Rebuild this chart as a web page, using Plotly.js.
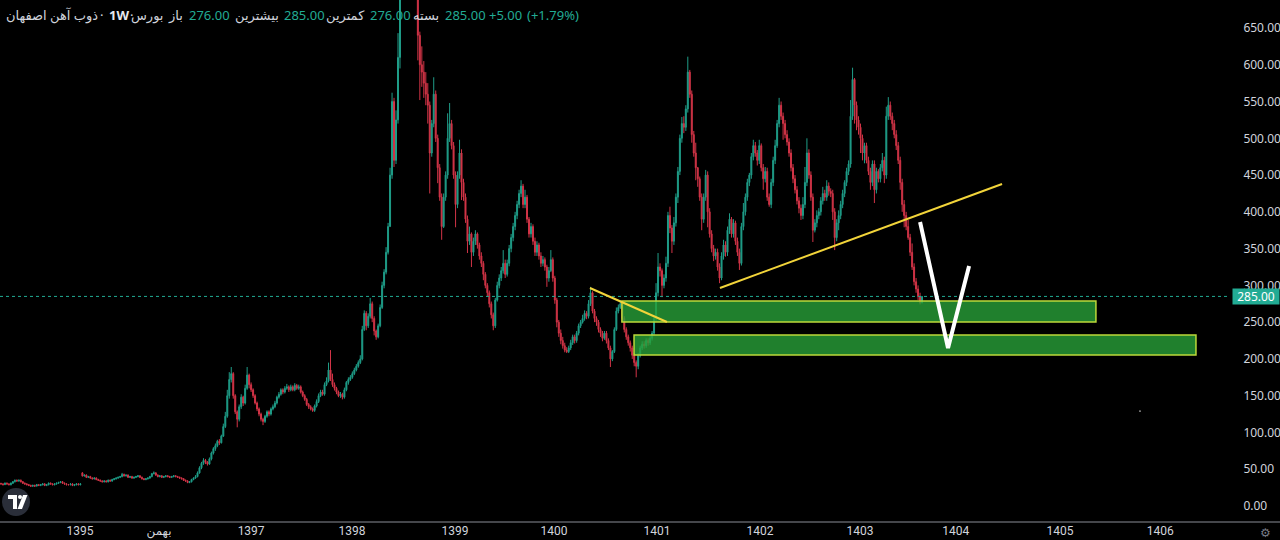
<!DOCTYPE html>
<html><head><meta charset="utf-8">
<script src="https://cdn.plot.ly/plotly-3.0.1.min.js"></script>
<style>html,body{margin:0;padding:0;background:#000;overflow:hidden}#c{width:1280px;height:540px}</style>
</head><body><div id="c"></div>
<script>
// Weekly OHLC of ذوب آهن اصفهان
const closeP = [30,29,31,30,29,31,33,35,34,35,
33,31,30,29,28,27,28,27,29,28,
29,30,28,29,31,30,29,30,31,32,
33,31,30,29,29,30,28,29,30,29,30,
41,42,39,40,38,37,38,36,35,34,
33,34,33,35,34,36,37,38,39,40,
43,41,42,39,40,38,39,40,41,39,
37,36,37,38,40,44,45,42,40,41,
39,40,41,40,39,40,41,40,39,38,
37,35,34,32,33,
36,38,40,45,52,58,62,60,57,64,
72,78,82,88,86,95,108,122,150,172,
180,150,128,118,135,148,140,160,178,165,
158,150,140,132,125,118,115,122,128,125,
132,135,140,148,152,158,155,160,162,158,
162,158,164,160,162,155,150,145,138,135,
132,130,136,142,150,155,152,165,170,185,
172,165,160,155,150,152,148,158,168,172,
175,180,185,190,195,200,240,262,245,258,
275,255,238,230,245,270,300,318,345,380,
450,550,470,525,610,690,740,765,785,770,
750,760,735,720,640,600,590,575,560,545,
480,520,560,500,460,420,380,420,450,500,
520,490,450,410,450,480,440,420,390,360,
370,345,360,370,355,340,330,315,300,290,
275,260,245,280,300,310,320,330,315,330,
350,365,380,395,410,425,435,410,420,390,
370,380,360,345,355,340,330,335,325,310,
320,335,310,280,250,235,225,218,212,210,
215,222,230,225,235,245,250,255,262,258,
275,290,265,255,250,240,235,228,235,225,
215,200,210,240,265,270,275,255,240,230,
222,215,205,195,190,205,215,220,218,225,
222,228,235,255,290,325,320,300,310,330,
395,378,360,385,420,455,500,520,515,540,
590,560,505,480,460,445,420,390,420,450,
400,370,350,340,345,325,310,340,355,345,
375,390,370,385,360,345,330,380,400,420,
440,450,475,490,480,470,490,460,445,455,
420,410,440,470,490,520,545,530,520,505,
495,480,460,445,430,415,405,395,410,440,
480,450,420,375,385,395,400,415,425,420,
435,428,425,400,365,385,395,410,425,440,
455,465,530,580,545,525,515,500,480,490,
470,455,440,465,430,455,445,460,470,450,
530,545,530,520,505,490,470,440,410,395,
380,365,345,325,305,295,285,276,285];

const highP = [31,31,32,32,31,32,34,36,36,36,
36,34,32,31,30,29,29,29,30,30,
30,31,31,30,32,32,31,31,32,33,
34,34,32,31,30,31,31,30,31,31,31,
46,43,43,41,41,39,39,39,37,36,
35,35,35,36,36,37,38,39,40,41,
45,44,43,43,41,41,40,41,42,42,
40,38,38,39,41,45,47,46,43,42,
42,41,42,42,41,41,42,42,41,40,
39,38,36,35,34,
37,39,42,47,54,60,65,64,61,66,
74,80,85,90,91,97,112,128,158,182,
189,182,152,130,138,152,150,165,189,180,
168,160,152,142,134,127,120,124,130,130,
134,138,143,150,155,160,160,163,166,164,
165,164,167,166,165,164,157,152,147,140,
137,134,138,145,153,158,158,168,175,195,
212,180,168,162,157,155,154,161,170,175,
178,183,188,193,198,205,245,266,265,262,
283,278,258,240,248,274,305,322,352,385,
460,562,555,538,643,730,765,790,805,810,
790,785,770,750,725,645,625,605,590,575,
550,525,583,565,505,465,425,425,455,534,
548,525,495,455,455,498,485,445,425,395,
380,372,365,375,372,358,345,333,318,303,
293,278,263,283,305,315,325,348,335,335,
355,370,385,400,415,430,443,438,430,423,
393,385,383,365,360,358,345,340,338,328,
325,348,338,313,283,253,240,230,222,216,
218,226,233,233,238,248,253,260,266,265,
280,298,292,268,258,253,243,238,238,238,
228,218,212,243,270,274,280,278,258,243,
233,225,218,208,198,208,218,224,224,228,
228,231,238,259,303,344,330,323,315,339,
400,407,382,393,425,461,505,529,530,545,
611,593,565,510,494,461,448,425,425,457,
455,405,375,355,350,350,330,345,362,360,
380,398,393,390,388,365,350,385,412,425,
445,453,480,498,495,484,498,493,465,461,
460,425,445,475,498,525,555,550,535,525,
511,500,485,465,450,435,420,410,420,461,
500,485,455,425,390,402,405,420,434,430,
443,440,432,430,405,390,402,415,430,443,
460,470,552,596,582,550,530,520,505,494,
494,475,460,470,470,460,458,465,480,475,
543,556,550,535,525,511,495,475,445,416,
400,389,370,357,330,310,300,290,285];

const lowP = [29,28,29,29,28,28,30,32,33,33,
32,30,29,28,27,26,26,26,27,27,
27,28,27,27,28,29,28,28,29,30,
31,30,29,28,28,28,27,27,28,28,28,
40,40,38,38,37,36,36,35,34,33,
32,32,32,32,33,33,35,36,37,38,
39,40,40,38,38,37,37,38,39,38,
36,35,35,36,37,39,43,41,39,39,
38,38,39,39,38,38,39,39,38,37,
36,34,33,31,31,
32,35,37,39,44,50,56,57,55,56,
62,70,75,80,83,85,94,106,120,146,
168,146,125,107,115,132,136,138,158,160,
155,147,138,129,122,115,110,113,120,122,
123,130,133,138,146,150,152,153,158,155,
156,156,156,158,158,153,148,143,136,132,
130,128,128,134,140,148,150,150,163,168,
170,162,157,152,148,147,145,146,156,165,
170,173,178,183,188,193,198,238,239,242,
255,250,232,226,228,243,268,296,315,342,
380,445,461,465,520,595,688,725,745,735,
720,730,712,695,606,552,570,555,545,520,
425,475,515,495,439,415,362,378,415,445,
495,485,445,379,405,445,416,415,385,344,
355,325,340,355,350,335,325,307,296,285,
270,255,239,242,278,296,306,316,310,312,
326,345,360,375,390,405,420,405,405,385,
365,365,355,340,340,335,325,326,320,298,
305,318,305,275,243,230,220,214,209,208,
208,212,219,221,222,232,242,248,252,254,
255,272,262,250,245,236,230,224,226,221,
212,189,197,208,238,262,268,250,236,226,
218,210,200,190,175,186,202,212,214,215,
218,219,225,232,252,285,312,284,296,305,
325,371,344,355,380,412,450,494,507,510,
535,555,494,475,443,434,415,375,385,415,
379,365,345,333,335,320,303,307,335,339,
340,370,365,365,355,340,321,327,375,395,
415,435,445,470,475,463,465,455,430,440,
415,407,405,435,465,487,515,525,498,500,
490,475,455,439,425,410,398,389,390,405,
435,445,415,359,372,379,390,395,410,415,
415,422,420,389,348,360,375,390,405,420,
435,450,460,525,520,511,505,480,470,466,
466,450,430,435,412,425,440,440,455,439,
445,525,525,511,500,484,465,430,400,379,
375,362,340,321,300,290,280,274,276];

// Opens that differ from the previous week's close
const openOverrides = {0: 31, 41: 45};

// Time axis labels
const tickLabels = ['1395','بهمن','1397','1398','1399','1400','1401','1402','1403','1404','1405','1406'];
const tickBars  = [39.8, 79.6, 126, 176.8, 228.7, 278.6, 330.5, 382.4, 432.7, 481, 533.5, 584];

// Header (symbol & last bar OHLC): text, anchor px, anchor side, colour, bold
const headerParts = [
  ['ذوب آهن اصفهان', 4, 'left', '#d1d4dc', false], ['·', 101, 'center', '#d1d4dc', false],
  ['1W', 107, 'left', '#e6e8ee', true], ['·', 131, 'center', '#d1d4dc', false],
  ['بورس', 165, 'right', '#d1d4dc', false], ['باز', 185, 'right', '#d1d4dc', false],
  ['276.00', 187, 'left', '#22ab94', false],
  ['بیشترین', 281, 'right', '#d1d4dc', false], ['285.00', 282, 'left', '#22ab94', false],
  ['کمترین', 367, 'right', '#d1d4dc', false], ['276.00', 368, 'left', '#22ab94', false],
  ['بسته', 441, 'right', '#d1d4dc', false], ['285.00', 443, 'left', '#22ab94', false],
  ['+5.00', 487, 'left', '#22ab94', false], ['(+1.79%)', 525, 'left', '#22ab94', false]
];
const lastPrice = 285;

const n = closeP.length;
const xs = [], openP = [];
for (let i = 0; i < n; i++) {
  xs.push(i);
  openP.push(openOverrides[i] !== undefined ? openOverrides[i] : closeP[i - 1]);
}

const W = 1230, H = 522;
const trace = {
  type: 'candlestick', x: xs, open: openP, high: highP, low: lowP, close: closeP,
  increasing: {line: {color: '#1f9d88', width: 1}, fillcolor: '#1f9d88'},
  decreasing: {line: {color: '#d23447', width: 1}, fillcolor: '#d23447'},
  whiskerwidth: 0, hoverinfo: 'skip', showlegend: false
};

const yellow = '#f2d43a';
const boxFill = 'rgba(40,160,56,0.8)';
const boxLine = '#bcd93a';
const shapes = [
  {type: 'line', xref: 'paper', yref: 'y', x0: 0, x1: 1, y0: lastPrice, y1: lastPrice,
   line: {color: '#22ab94', width: 1, dash: 'dot'}},
  {type: 'rect', xref: 'x', yref: 'y', x0: 312.8, x1: 551.6, y0: 250.2, y1: 278.8,
   fillcolor: boxFill, line: {color: boxLine, width: 1.5}, layer: 'above'},
  {type: 'rect', xref: 'x', yref: 'y', x0: 318.9, x1: 602.0, y0: 205.3, y1: 232.5,
   fillcolor: boxFill, line: {color: boxLine, width: 1.5}, layer: 'above'},
  {type: 'line', xref: 'x', yref: 'y', x0: 296.7, y0: 296.4, x1: 335.5, y1: 250.2,
   line: {color: yellow, width: 2}},
  {type: 'line', xref: 'x', yref: 'y', x0: 362.2, y0: 296.4, x1: 504.3, y1: 437.9,
   line: {color: yellow, width: 2}},
  {type: 'path', xref: 'x', yref: 'y', path: 'M 463,386.2 L 477.1,214.9 L 487.7,326.3',
   line: {color: '#ffffff', width: 4}},
  {type: 'circle', xref: 'x', yref: 'y', x0: 573.3, x1: 574.3, y0: 128.5, y1: 130,
   fillcolor: '#ffffff', line: {color: '#ffffff', width: 0}},
  // bottom axis line across the whole width
  {type: 'line', xref: 'paper', yref: 'paper', x0: 0, x1: 1280 / W, y0: 0, y1: 0,
   line: {color: '#8a8d96', width: 1}},
  // TradingView logo
  {type: 'circle', xref: 'paper', yref: 'paper', x0: 2 / W, x1: 30 / W, y0: 1 - 516 / H, y1: 1 - 488 / H,
   fillcolor: '#2a2e39', line: {width: 0}},
  {type: 'path', xref: 'paper', yref: 'paper',
   path: `M ${8/W},${1-495/H} L ${17/W},${1-495/H} L ${17/W},${1-509/H} L ${13/W},${1-509/H} L ${13/W},${1-499/H} L ${8/W},${1-499/H} Z`,
   fillcolor: '#ffffff', line: {width: 0}},
  {type: 'circle', xref: 'paper', yref: 'paper', x0: 18/W, x1: 22/W, y0: 1-499/H, y1: 1-495/H,
   fillcolor: '#ffffff', line: {width: 0}},
  {type: 'path', xref: 'paper', yref: 'paper',
   path: `M ${23/W},${1-495/H} L ${27.5/W},${1-495/H} L ${22/W},${1-509/H} L ${17.5/W},${1-509/H} Z`,
   fillcolor: '#ffffff', line: {width: 0}}
];

const annotations = headerParts.map(p => ({
  text: p[4] ? '<b>' + p[0] + '</b>' : p[0], xref: 'paper', yref: 'paper', x: p[1] / W, y: 1 - 15 / H,
  xanchor: p[2], yanchor: 'middle', showarrow: false,
  font: {family: 'Noto Sans, DejaVu Sans, sans-serif', size: 13, color: p[3]}
}));
annotations.push({
  text: lastPrice.toFixed(2), xref: 'paper', yref: 'y', x: 1232 / W, y: lastPrice,
  xanchor: 'left', yanchor: 'middle', showarrow: false, bgcolor: '#22ab94',
  width: 44, height: 13, borderpad: 1,
  font: {family: 'Noto Sans, sans-serif', size: 12, color: '#ffffff'}
});
annotations.push({
  text: '⚙', xref: 'paper', yref: 'paper', x: 1265 / W, y: 1 - 533 / H,
  xanchor: 'center', yanchor: 'middle', showarrow: false,
  font: {family: 'DejaVu Sans', size: 12, color: '#787b86'}
});

const layout = {
  width: 1280, height: 540,
  margin: {l: 0, r: 50, t: 0, b: 18, pad: 0},
  paper_bgcolor: '#000000', plot_bgcolor: '#000000',
  showlegend: false, hovermode: false, dragmode: false,
  xaxis: {
    range: [-1 / 1.985, (W - 1) / 1.985], showgrid: false, zeroline: false, showline: false,
    tickmode: 'array', tickvals: tickBars, ticktext: tickLabels, ticks: '',
    tickfont: {family: 'Roboto, Noto Sans, DejaVu Sans', size: 12, color: '#d1d4dc'},
    rangeslider: {visible: false}, fixedrange: true
  },
  yaxis: {
    side: 'right', range: [-16 / 0.7354, 506 / 0.7354], showgrid: false, zeroline: false,
    showline: false, tickmode: 'linear', tick0: 0, dtick: 50, tickformat: '.2f',
    ticks: 'outside', ticklen: 10, tickcolor: 'rgba(0,0,0,0)',
    tickfont: {family: 'Noto Sans, sans-serif', size: 12, color: '#d1d4dc'}, fixedrange: true
  },
  shapes: shapes, annotations: annotations
};

Plotly.newPlot('c', [trace], layout, {staticPlot: true, displayModeBar: false});
</script>
</body></html>
